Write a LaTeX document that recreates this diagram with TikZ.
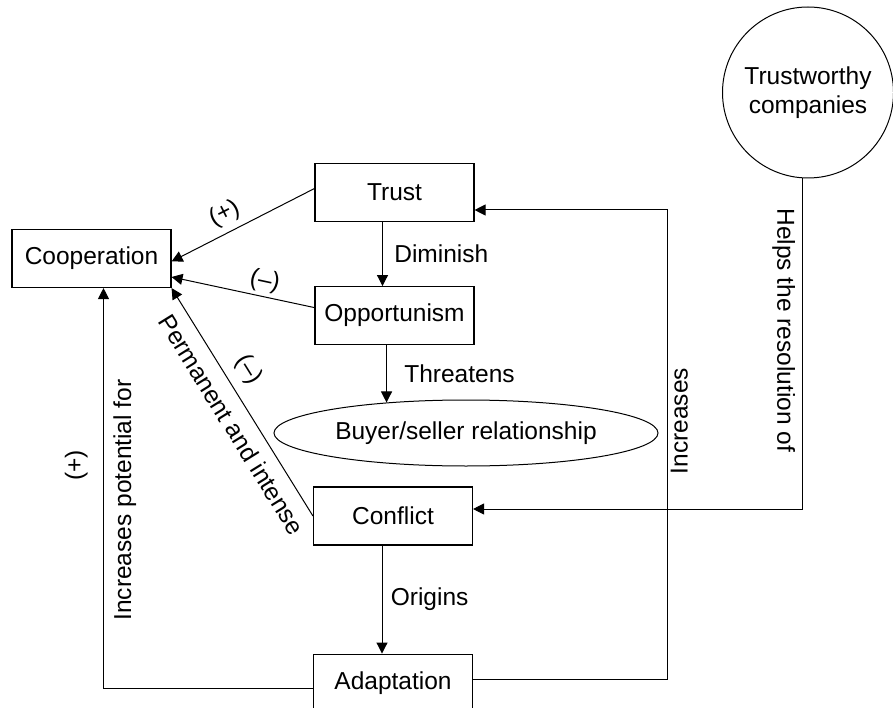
\documentclass[tikz,border=0pt]{standalone}
\usepackage{fontspec}
\setmainfont{Liberation Sans}
\usetikzlibrary{shapes.geometric,arrows.meta,positioning}

\begin{document}
\begin{tikzpicture}[
  x=1pt, y=1pt,
  every node/.style={font=\fontsize{24.5}{29}\selectfont},
  block/.style={rectangle, draw, line width=1.1pt, align=center,
                minimum width=159pt, minimum height=58pt, inner sep=0pt},
  bubble/.style={ellipse, draw, line width=1pt,
                 minimum width=384pt, minimum height=66pt, inner sep=0pt},
  roundnode/.style={circle, draw, line width=1pt, align=center,
                    minimum size=171pt, inner sep=0pt},
  arrow/.style={-{Triangle[width=11pt,length=11pt]}, line width=1pt}
]
\useasboundingbox (0,0) rectangle (893,-708);

\node[block] (cooperation) at (91.5,-258.5) {Cooperation};
\node[block] (trust) at (394.5,-192.5) {Trust};
\node[block, below=64pt of trust] (opportunism) {Opportunism};
\node[bubble] (relationship) at (466,-433) {Buyer/seller relationship};
\node[block] (conflict) at (393,-516) {Conflict};
\node[block, below=108pt of conflict] (adaptation) {Adaptation};
\node[roundnode] (companies) at (808,-92.5) {Trustworthy\\companies};
\coordinate (bend) at (667,-210);

\draw[arrow] ([yshift=4pt]trust.west) -- ([yshift=-3pt]cooperation.east)
  node[pos=0.57, sloped, above=3pt]{(+)};
\draw[arrow] ([yshift=8pt]opportunism.west) -- ([yshift=-18.5pt]cooperation.east)
  node[pos=0.37, sloped, above=0pt]{(--)};
\draw[arrow] (conflict.west) -- (cooperation.south east)
  node[pos=0.59, sloped, above=7pt]{(--)}
  node[pos=0.45, sloped, below=8pt]{Permanent and intense};
\draw[arrow] ([xshift=-12pt]trust.south) -- ([xshift=-12pt]opportunism.north)
  node[midway, right=8pt]{Diminish};
\draw[arrow] (relationship.159 |- opportunism.south) -- (relationship.159)
  node[midway, right=14pt]{Threatens};
\draw[arrow] ([xshift=-11pt]conflict.south) -- ([xshift=-11pt]adaptation.north)
  node[midway, right=5pt]{Origins};
\draw[arrow] ([yshift=4pt]adaptation.east)
  -| node[pos=0.775, sloped, below=0pt]{Increases} (bend)
  -- ([yshift=-17.5pt]trust.east);
\draw[arrow] (companies.266) |- ([yshift=7pt]conflict.east)
  node[pos=0.23, sloped, below=3pt]{Helps the resolution of};
\draw[arrow] ([yshift=-5pt]adaptation.west) -| ([xshift=12pt]cooperation.south)
  node[pos=0.735, sloped, below=6pt]{Increases potential for}
  node[pos=0.778, sloped, above=12pt]{(+)};

\end{tikzpicture}
\end{document}
